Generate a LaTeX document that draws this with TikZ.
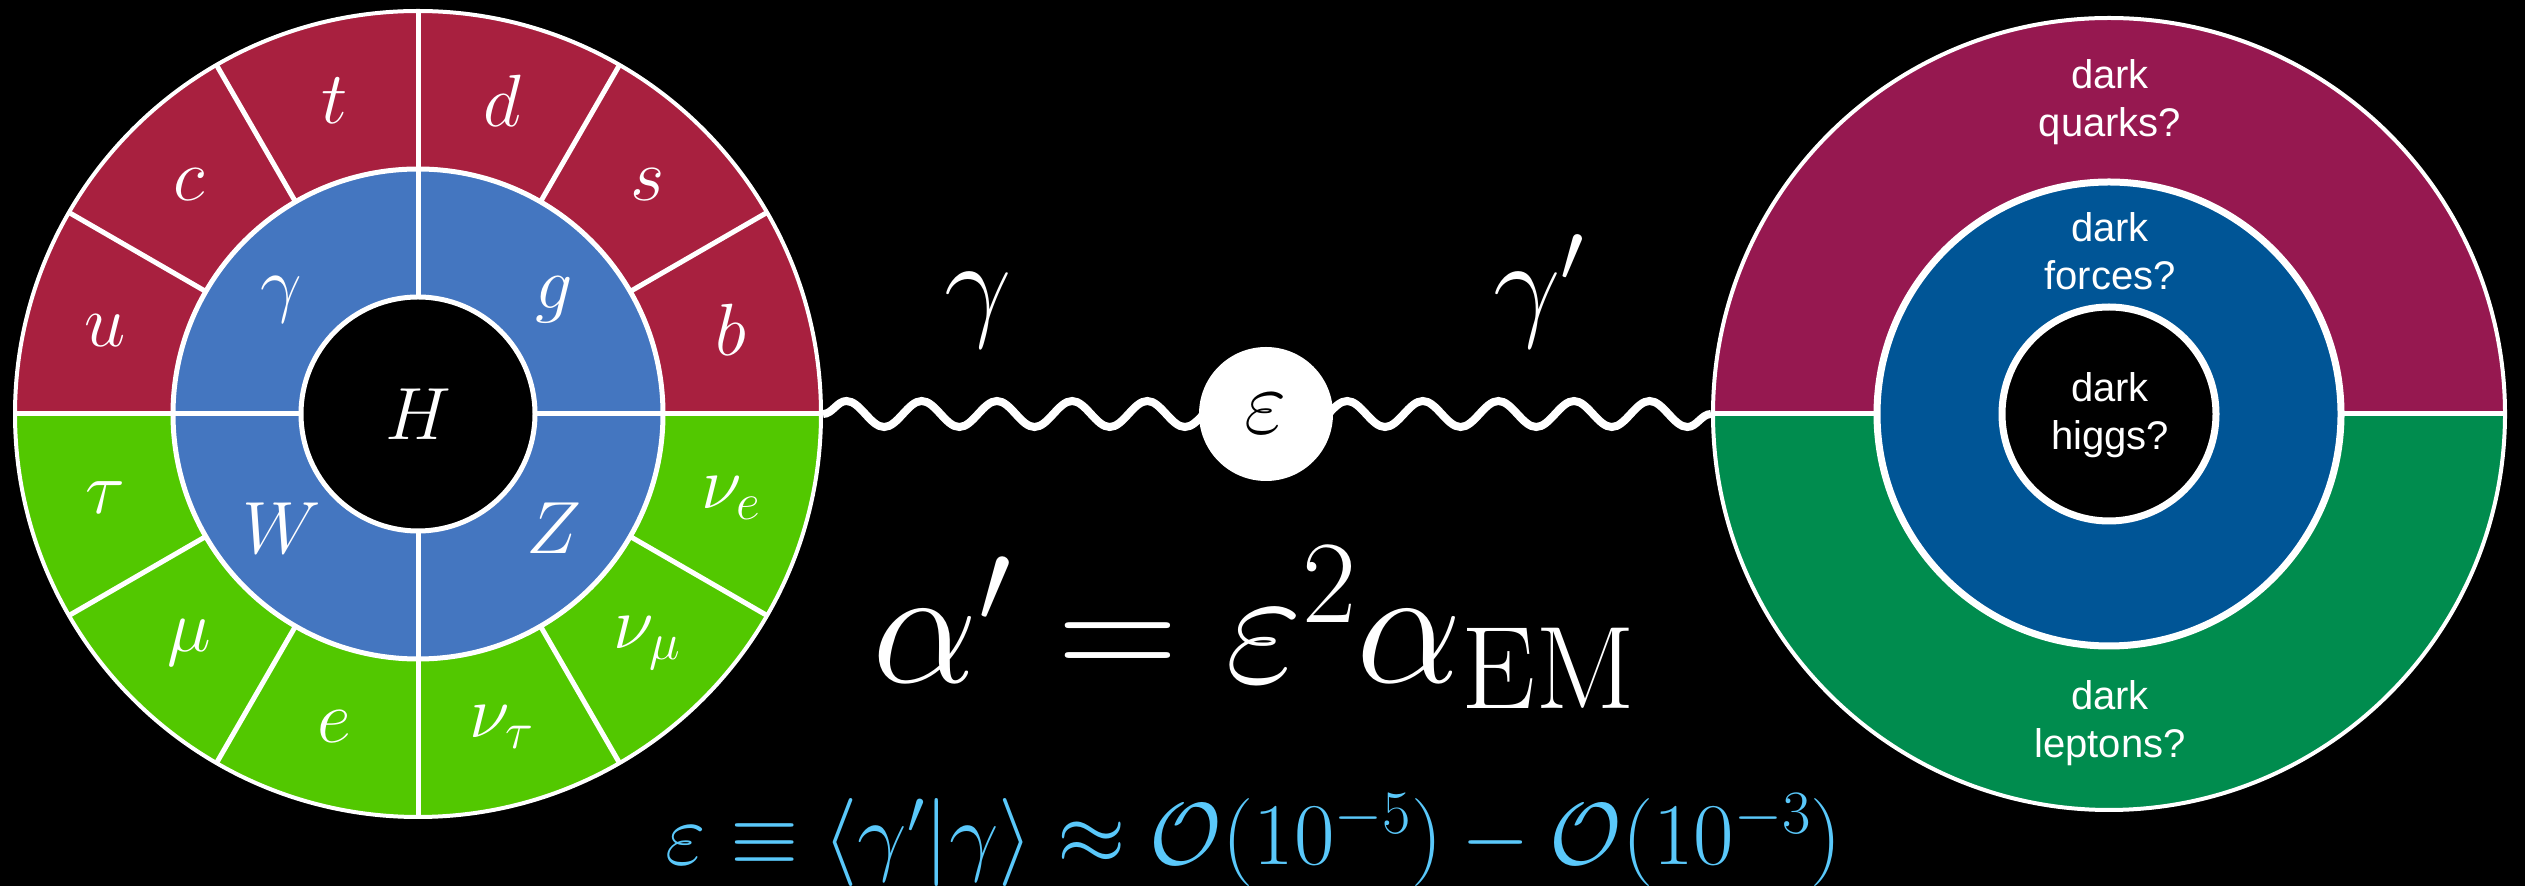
\RequirePackage{fix-cm}
\documentclass[tikz,border=0pt]{standalone}
\usepackage{fontspec}
\newfontfamily\sansf{Liberation Sans}
\usetikzlibrary{calc,decorations.pathmorphing}
\pgfdeclarelayer{background}
\pgfsetlayers{background,main}
\definecolor{qred}{RGB}{168,32,63}
\definecolor{lblue}{RGB}{68,118,192}
\definecolor{lgreen}{RGB}{82,200,0}
\definecolor{dpurple}{RGB}{150,24,80}
\definecolor{dblue}{RGB}{0,85,150}
\definecolor{dgreen}{RGB}{0,140,78}
\definecolor{formblue}{RGB}{90,200,250}
\tikzset{
  sep/.style={white, line width=5},
  lab/.style={text=white, inner sep=0, font=\fontsize{74}{88}\selectfont},
  dlab/.style={text=white, inner sep=0, align=center, font=\sansf\fontsize{40}{48}\selectfont},
  wave/.style={white, line width=8, decorate, decoration={snake, segment length=75.4pt, amplitude=13pt}},
  ringborder/.style={circle, draw=white, inner sep=0}
}
\begin{document}
\begin{tikzpicture}[x=1pt,y=1pt]
\begin{pgfonlayer}{background}
\fill[black] (0,0) rectangle (2525,886);
\end{pgfonlayer}
\useasboundingbox (0,0) rectangle (2525,886);
\coordinate (L0) at (418,472);
\coordinate (R0) at (2109,472);
% ---------- left: standard model ----------
\fill[qred] ($(L0)+(403,0)$) arc (0:180:403) -- cycle;
\fill[lgreen] ($(L0)+(-403,0)$) arc (180:360:403) -- cycle;
\fill[lblue] (L0) circle (245);
\fill[black] (L0) circle (117);
\foreach \a in {0,90,180,270} \draw[sep] ($(L0)+(\a:117)$) -- ($(L0)+(\a:403)$);
\foreach \a in {30,60,120,150,210,240,300,330} \draw[sep] ($(L0)+(\a:245)$) -- ($(L0)+(\a:403)$);
\node[ringborder, line width=5, minimum size=490] (SMmid) at (L0) {};
\node[ringborder, line width=5, minimum size=234] (SMin) at (L0) {};
\node[ringborder, line width=4, minimum size=806] (SM) at (L0) {};
\node[lab] (u) at ($(L0)+(165:324)$) {$u$};
\node[lab] (c) at ($(L0)+(135:324)$) {$c$};
\node[lab] (t) at ($(L0)+(105:324)$) {$t$};
\node[lab] (d) at ($(L0)+(75:324)$) {$d$};
\node[lab] (s) at ($(L0)+(45:324)$) {$s$};
\node[lab] (b) at ($(L0)+(15:324)$) {$b$};
\node[lab] (tau) at ($(L0)+(195:324)$) {$\tau$};
\node[lab] (mu) at ($(L0)+(225:324)$) {$\mu$};
\node[lab] (e) at ($(L0)+(255:324)$) {$e$};
\node[lab] (nut) at ($(L0)+(285:324)$) {$\nu_\tau$};
\node[lab] (num) at ($(L0)+(315:324)$) {$\nu_\mu$};
\node[lab] (nue) at ($(L0)+(345:324)$) {$\nu_e$};
\node[lab] (gam) at ($(L0)+(140:178)$) {$\gamma$};
\node[lab] (g) at ($(L0)+(40:178)$) {$g$};
\node[lab] (W) at ($(L0)+(220:178)$) {$W$};
\node[lab] (Z) at ($(L0)+(320:178)$) {$Z$};
\node[lab] (H) at (L0) {$H$};
% ---------- right: dark sector ----------
\fill[dpurple] ($(R0)+(396,0)$) arc (0:180:396) -- cycle;
\fill[dgreen] ($(R0)+(-396,0)$) arc (180:360:396) -- cycle;
\fill[dblue] (R0) circle (232);
\fill[black] (R0) circle (107);
\draw[sep] ($(R0)+(0:232)$) -- ($(R0)+(0:396)$);
\draw[sep] ($(R0)+(180:232)$) -- ($(R0)+(180:396)$);
\node[ringborder, line width=7, minimum size=464] (DSmid) at (R0) {};
\node[ringborder, line width=7, minimum size=214] (DSin) at (R0) {};
\node[ringborder, line width=4, minimum size=792] (DS) at (R0) {};
\node[dlab] (dq) at (2110,784) {dark\\quarks?};
\node[dlab] (df) at (2110,635) {dark\\forces?};
\node[dlab] (dh) at (2110,471) {dark\\higgs?};
\node[dlab] (dl) at (2110,163) {dark\\leptons?};
% ---------- mixing ----------
\node[circle, fill=white, inner sep=0, minimum size=134, text=black,
      font=\fontsize{92}{100}\selectfont] (eps) at (1266,472) {$\varepsilon$};
\begin{pgfonlayer}{background}
\draw[wave, decoration={segment length=75.2pt}] (SM.east) -- (eps.center);
\draw[wave, decoration={segment length=75.6pt}] (DS.west) -- (eps.center);
\end{pgfonlayer}
\node[text=white, anchor=base, inner sep=0, font=\fontsize{120}{135}\selectfont] (gl) at (978,561) {$\gamma$};
\node[text=white, anchor=base, inner sep=0, font=\fontsize{120}{135}\selectfont] (gr) at (1539,561) {$\gamma'$};
\node[text=white, anchor=base, inner sep=0, font=\fontsize{168}{190}\selectfont] (alpha) at (1254,203) {$\alpha' = \varepsilon^2\alpha_{\mathrm{EM}}$};
\node[text=formblue, anchor=base, inner sep=0, font=\fontsize{88}{100}\selectfont] (mix) at (1254,21) {$\varepsilon \equiv \langle\gamma'|\gamma\rangle \approx \mathcal{O}(10^{-5}) - \mathcal{O}(10^{-3})$};
\end{tikzpicture}
\end{document}
